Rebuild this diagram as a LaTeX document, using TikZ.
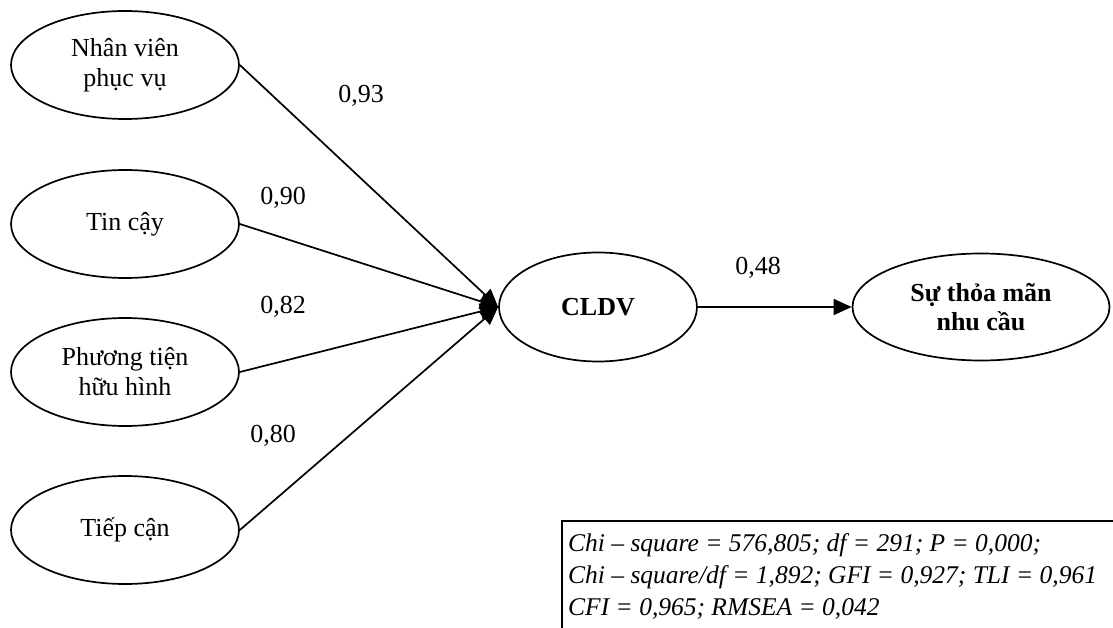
\documentclass[tikz,border=0pt]{standalone}
\usepackage{fontspec}
\setmainfont{Liberation Serif}
\usetikzlibrary{shapes.geometric,arrows.meta}
\begin{document}
\begin{tikzpicture}[x=1pt,y=-1pt,
  latent/.style={draw,ellipse,line width=1.7pt,inner sep=0pt,align=center,
    font=\fontsize{26}{30}\selectfont},
  effect/.style={line width=1.7pt,-{Triangle[length=18pt,width=16pt]}},
  coef/.style={anchor=base,inner sep=0pt,font=\fontsize{26}{30}\selectfont},
  fitline/.style={anchor=base west,inner sep=0pt,font=\itshape\fontsize{25.5}{30}\selectfont}]
\useasboundingbox (0,0) rectangle (1113,628);

% exogenous factors
\node[latent,minimum width=228pt,minimum height=108pt] (nv) at (125,65) {Nhân viên\\phục vụ};
\node[latent,minimum width=228pt,minimum height=108pt] (tc) at (125,224) {Tin cậy};
\node[latent,minimum width=228pt,minimum height=108pt] (pt) at (125,372) {Phương tiện\\hữu hình};
\node[latent,minimum width=228pt,minimum height=108pt] (ti) at (125,530) {Tiếp cận};

% service quality and satisfaction
\node[latent,minimum width=198pt,minimum height=109pt,font=\bfseries\fontsize{26}{30}\selectfont] (cl) at (598,307) {CLDV};
\node[latent,minimum width=257pt,minimum height=107pt,font=\bfseries\fontsize{26}{29}\selectfont] (st) at (981,307) {Sự thỏa mãn\\nhu cầu};

% paths
\draw[effect] (nv.east) -- (cl.west);
\draw[effect] (tc.east) -- (cl.west);
\draw[effect] (pt.east) -- (cl.west);
\draw[effect] (ti.east) -- (cl.west);
\draw[effect] (cl.east) -- (st.west);

% standardized loadings
\node[coef] (c1) at (361,103) {0,93};
\node[coef] (c2) at (283,205) {0,90};
\node[coef] (c3) at (283,313) {0,82};
\node[coef] (c4) at (273,442) {0,80};
\node[coef] (c5) at (758,275) {0,48};

% model fit indices
\begin{scope}
\clip (0,0) rectangle (1113,628);
\draw[line width=1.6pt] (562,640) -- (562,521) -- (1130,521);
\end{scope}
\node[fitline] (f1) at (568,551) {Chi – square = 576,805; df = 291; P = 0,000;};
\node[fitline] (f2) at (568,583) {Chi – square/df = 1,892; GFI = 0,927; TLI = 0,961};
\node[fitline] (f3) at (568,615) {CFI = 0,965; RMSEA = 0,042};
\end{tikzpicture}
\end{document}
